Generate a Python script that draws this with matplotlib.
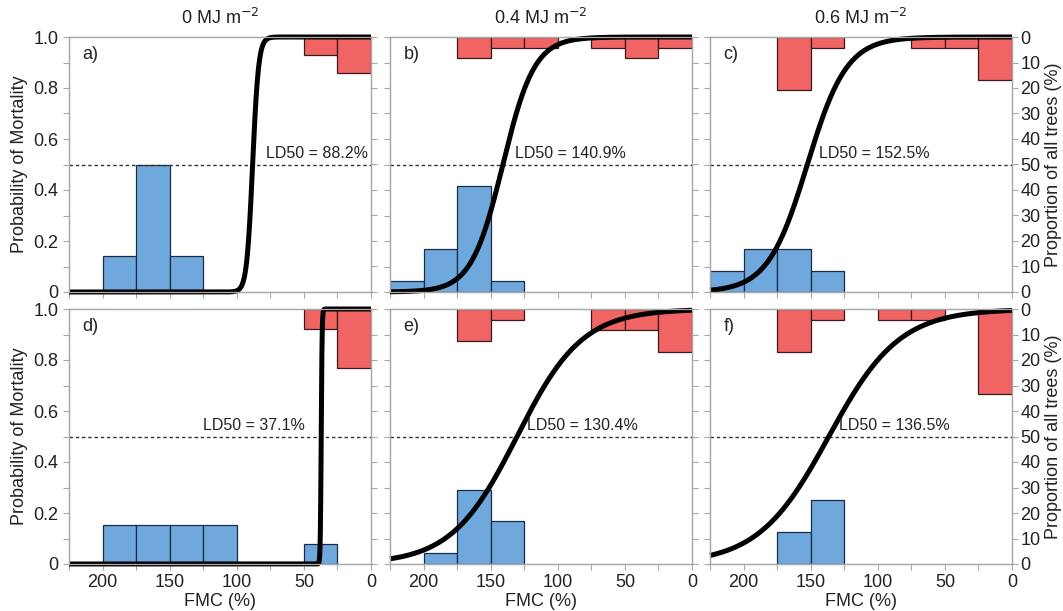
import numpy as np
import matplotlib
matplotlib.use("Agg")
import matplotlib.pyplot as plt

plt.rcParams['font.family'] = ['Liberation Sans', 'DejaVu Sans']

# FMC bins (25 % wide), ordered from wet to dry: 225-200, 200-175, ..., 25-0
bin_hi = [225, 200, 175, 150, 125, 100, 75, 50, 25]

# percentage of all trees per bin: survivors (from bottom) and dead (from top)
alive_a = [0, 14.3, 50.0, 14.3, 0, 0, 0, 0, 0]
dead_a = [0, 0, 0, 0, 0, 0, 0, 7.1, 14.3]
alive_b = [4.2, 16.7, 41.7, 4.2, 0, 0, 0, 0, 0]
dead_b = [0, 0, 8.3, 4.2, 4.2, 0, 4.2, 8.3, 4.2]
alive_c = [8.3, 16.7, 16.7, 8.3, 0, 0, 0, 0, 0]
dead_c = [0, 0, 20.8, 4.2, 0, 0, 4.2, 4.2, 16.7]
alive_d = [0, 15.4, 15.4, 15.4, 15.4, 0, 0, 7.7, 0]
dead_d = [0, 0, 0, 0, 0, 0, 0, 7.7, 23.1]
alive_e = [0, 4.2, 29.2, 16.7, 0, 0, 0, 0, 0]
dead_e = [0, 0, 12.5, 4.2, 0, 0, 8.3, 8.3, 16.7]
alive_f = [0, 0, 12.5, 25.0, 0, 0, 0, 0, 0]
dead_f = [0, 0, 16.7, 4.2, 0, 4.2, 4.2, 0, 33.3]

# logistic fits: LD50 and slope
ld50 = [88.2, 140.9, 152.5, 37.1, 130.4, 136.5]
slope = [0.45, 0.085, 0.068, 3.0, 0.041, 0.038]
ld_text_x = [2, 132, 144, 125, 123, 129]

letters = ['a)', 'b)', 'c)', 'd)', 'e)', 'f)']
titles = ['0 MJ m$^{-2}$', '0.4 MJ m$^{-2}$', '0.6 MJ m$^{-2}$']

alive = [alive_a, alive_b, alive_c, alive_d, alive_e, alive_f]
dead = [dead_a, dead_b, dead_c, dead_d, dead_e, dead_f]

W, H = 1063, 611
fig = plt.figure(figsize=(W / 100, H / 100), dpi=100)

lefts = [69, 390, 710]
tops = [37, 309]
pw, ph = 302, 255

spine_c = '#a8a8a8'
txt_c = '#222222'
blue = '#6fa8dc'
red = '#f06464'
fs = 13

x_curve = np.linspace(225, 0, 800)
centers = np.array(bin_hi) - 12.5

for i in range(6):
    r, c = divmod(i, 3)
    ax = fig.add_axes([lefts[c] / W, 1 - (tops[r] + ph) / H, pw / W, ph / H])
    ax.set_xlim(225, 0)
    ax.set_ylim(0, 1)

    a = np.array(alive[i]) / 100
    d = np.array(dead[i]) / 100
    m = a > 0
    ax.bar(centers[m], a[m], width=25, color=blue, edgecolor='#1c2c48', linewidth=0.9, zorder=2)
    m = d > 0
    ax.bar(centers[m], d[m], width=25, bottom=1 - d[m], color=red, edgecolor='#3a1a1a', linewidth=0.9, zorder=2)

    ax.axhline(0.5, color='#333333', lw=1, ls=(0, (2.5, 2)), zorder=3)
    p = 1 / (1 + np.exp(slope[i] * (x_curve - ld50[i])))
    ax.plot(x_curve, p, color='black', lw=3.6, zorder=4, clip_on=False, solid_capstyle='butt')

    ax.text(ld_text_x[i], 0.515, 'LD50 = %.1f%%' % ld50[i], ha='left' if i != 0 else 'right',
            va='bottom', fontsize=11.5, color=txt_c, zorder=5)
    ax.text(0.045, 0.965, letters[i], transform=ax.transAxes, ha='left', va='top',
            fontsize=fs, color=txt_c, zorder=5)

    ax.set_xticks(np.arange(200, -1, -50))
    ax.set_xticks(np.arange(225, -1, -25), minor=True)
    ax.set_yticks(np.arange(0, 1.01, 0.2))
    ax.set_yticks(np.arange(0, 1.01, 0.1), minor=True)
    ax.set_yticklabels(['0', '0.2', '0.4', '0.6', '0.8', '1.0'])
    ax.tick_params(which='both', direction='out', color=spine_c, labelcolor=txt_c,
                   labelsize=fs, length=4, width=0.8)
    for s in ax.spines.values():
        s.set_color(spine_c)
        s.set_linewidth(0.9)

    if r == 0:
        ax.tick_params(labelbottom=False)
        ax.set_title(titles[c], fontsize=fs, color=txt_c, pad=9)
    else:
        ax.set_xlabel('FMC (%)', fontsize=fs, color=txt_c, labelpad=1)
    if c != 0:
        ax.tick_params(labelleft=False)
    else:
        ax.set_ylabel('Probability of Mortality', fontsize=fs, color=txt_c, labelpad=4)

    ax2 = ax.twinx()
    ax2.set_ylim(0, 1)
    ax2.set_yticks(np.arange(0, 1.01, 0.1))
    ax2.tick_params(direction='out', color=spine_c, labelcolor=txt_c, labelsize=fs,
                    length=4, width=0.8, pad=2)
    for s in ax2.spines.values():
        s.set_color(spine_c)
        s.set_linewidth(0.9)
    if c == 2:
        ax2.set_yticklabels(['0', '10', '20', '30', '40', '50', '40', '30', '20', '10', '0'])
        ax2.set_ylabel('Proportion of all trees (%)', fontsize=fs, color=txt_c, labelpad=3)
    else:
        ax2.set_yticklabels([])

fig.savefig('out.png', dpi=100)
